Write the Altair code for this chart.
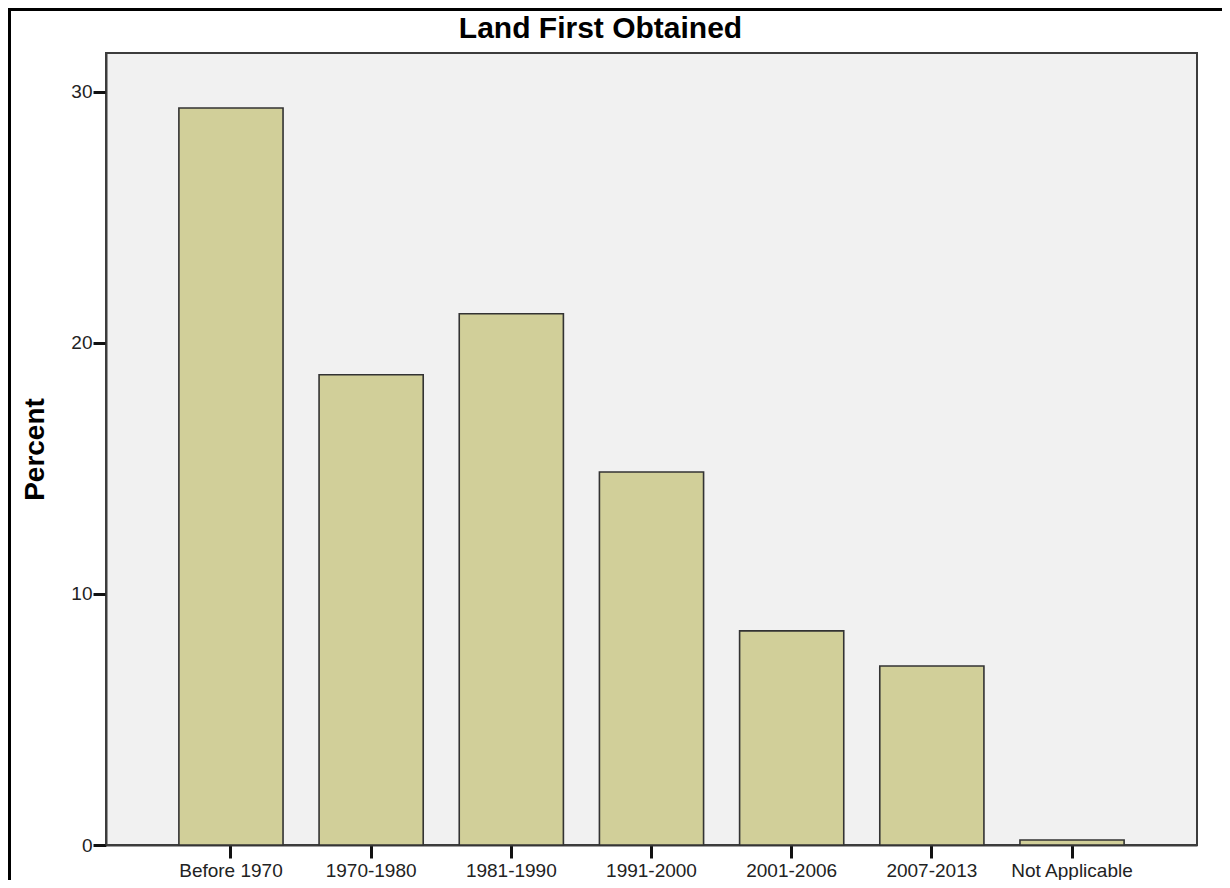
import altair as alt
import pandas as pd

categories = ["Before 1970", "1970-1980", "1981-1990", "1991-2000", "2001-2006", "2007-2013", "Not Applicable"]
percents = [29.36, 18.73, 21.16, 14.86, 8.53, 7.13, 0.2]
y_ticks = [0, 10, 20, 30]

df = pd.DataFrame({"period": categories, "percent": percents})

W, H = 1091, 792

bars = alt.Chart(df).mark_bar(
    fill="#D1CF99", stroke="#333333", strokeWidth=1.6
).encode(
    x=alt.X("period:N", sort=categories,
            scale=alt.Scale(paddingInner=0.257, paddingOuter=0.52),
            axis=alt.Axis(title=None, labelAngle=0, labelFont="Liberation Sans",
                          labelFontSize=19, labelColor="#222222", labelPadding=3,
                          tickSize=13, tickWidth=3, tickColor="#111111",
                          domainColor="#3c3c3c", domainWidth=2)),
    y=alt.Y("percent:Q", scale=alt.Scale(domain=[0, 31.55], nice=False, zero=True),
            axis=alt.Axis(title="Percent", values=y_ticks, grid=False,
                          labelFont="Liberation Sans", labelFontSize=19, labelColor="#222222",
                          labelPadding=1, tickSize=13, tickWidth=3, tickColor="#111111",
                          domainColor="#3c3c3c", domainWidth=2,
                          titleFont="Liberation Sans", titleFontSize=28, titleFontWeight="bold",
                          titleColor="#000000", titlePadding=21)),
)

# outer image frame (decoration): left and top edges
frame_left = alt.Chart(df).mark_rule(color="#000000", strokeWidth=3).encode(
    x=alt.value(-96.5), y=alt.value(-45), y2=alt.value(H + 35)
)
frame_top = alt.Chart(df).mark_rule(color="#000000", strokeWidth=3).encode(
    x=alt.value(-98), x2=alt.value(W + 25), y=alt.value(-43.5)
)

chart = alt.layer(bars, frame_left, frame_top).properties(
    width=W, height=H,
    autosize=alt.AutoSizeParams(type="none"),
    padding={"left": 98, "top": 45, "right": 25, "bottom": 35},
    title=alt.TitleParams("Land First Obtained", font="Liberation Sans", fontSize=30,
                          fontWeight="bold", color="#000000", anchor="middle",
                          frame="group", dx=-51, offset=-37),
).configure_view(
    fill="#F1F1F1", stroke="#3c3c3c", strokeWidth=2
)

chart.save("out.html", embed_options={"renderer": "svg", "actions": False})
